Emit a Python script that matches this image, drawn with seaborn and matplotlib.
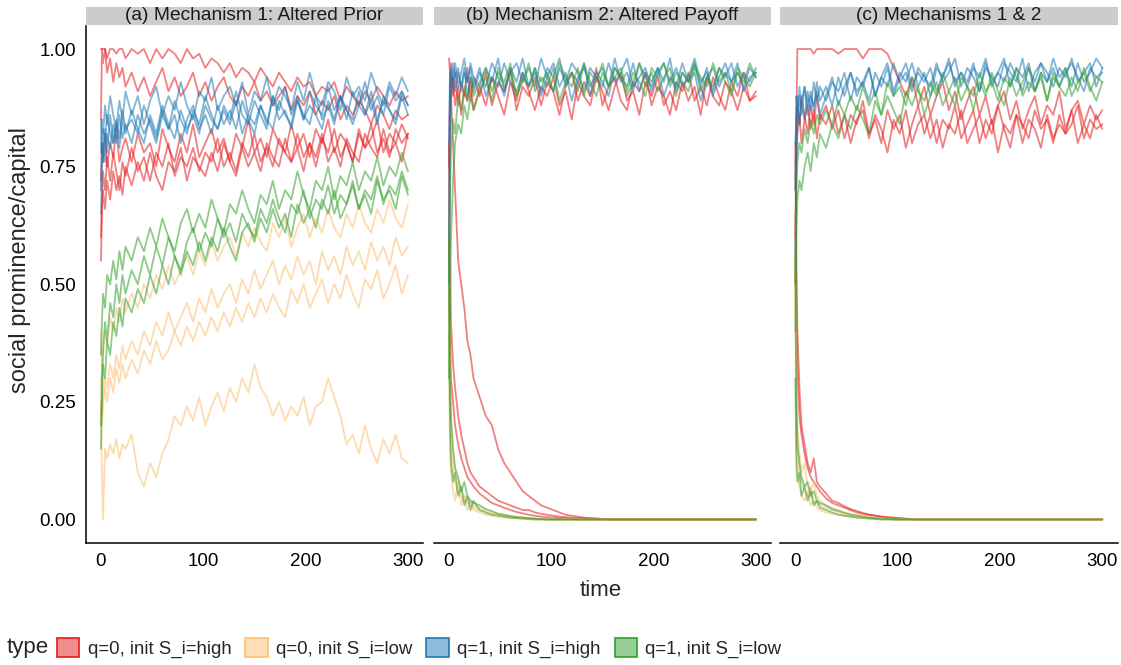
import pandas as pd
import matplotlib
matplotlib.use("Agg")
import matplotlib.pyplot as plt
from matplotlib.patches import Patch
from matplotlib.colors import to_rgba
import seaborn as sns

time = [0, 1, 2, 4, 6, 9, 12, 15, 18, 21, 24,
        30, 36, 42, 48, 54, 60, 66, 72, 78, 84,
        90, 96, 102, 108, 114, 120, 126, 132, 138, 144,
        150, 156, 162, 168, 174, 180, 186, 192, 198, 204,
        210, 216, 222, 228, 234, 240, 246, 252, 258, 264,
        270, 276, 282, 288, 294, 300]

types = ["q=0, init S_i=high", "q=0, init S_i=low", "q=1, init S_i=high", "q=1, init S_i=low"]
colors = ["#E31A1C", "#FDBF6F", "#1F78B4", "#33A02C"]
panels = ["(a) Mechanism 1: Altered Prior", "(b) Mechanism 2: Altered Payoff", "(c) Mechanisms 1 & 2"]

# ---------------- (a) Mechanism 1 ----------------
a_q0_high = [
    [1.0, 1.0, 1.0, 1.0, 0.98, 1.0, 1.0, 0.99, 1.0, 1.0, 0.98,
     1.0, 0.99, 1.0, 0.97, 1.0, 0.98, 1.0, 0.99, 0.97, 1.0,
     0.98, 0.99, 0.96, 0.98, 0.97, 0.95, 0.97, 0.94, 0.96, 0.95,
     0.93, 0.96, 0.94, 0.92, 0.95, 0.93, 0.91, 0.94, 0.92, 0.93,
     0.9, 0.92, 0.91, 0.93, 0.89, 0.92, 0.9, 0.88, 0.91, 0.89,
     0.92, 0.9, 0.88, 0.91, 0.89, 0.9],
    [0.85, 1.0, 0.97, 1.0, 0.95, 0.98, 0.93, 0.97, 0.94, 0.96, 0.92,
     0.95, 0.91, 0.94, 0.9, 0.93, 0.96, 0.91, 0.94, 0.9, 0.92,
     0.95, 0.9, 0.93, 0.89, 0.92, 0.94, 0.9, 0.88, 0.92, 0.9,
     0.93, 0.89, 0.91, 0.88, 0.9, 0.92, 0.87, 0.9, 0.88, 0.91,
     0.86, 0.89, 0.87, 0.9, 0.85, 0.88, 0.86, 0.89, 0.87, 0.84,
     0.88, 0.86, 0.83, 0.87, 0.85, 0.86],
    [0.6, 0.68, 0.74, 0.7, 0.77, 0.72, 0.78, 0.74, 0.7, 0.76, 0.73,
     0.79, 0.74, 0.77, 0.72, 0.78, 0.75, 0.8, 0.73, 0.77, 0.75,
     0.79, 0.74, 0.78, 0.76, 0.81, 0.75, 0.78, 0.74, 0.8, 0.77,
     0.82, 0.76, 0.79, 0.75, 0.81, 0.78, 0.76, 0.82, 0.77, 0.8,
     0.75, 0.81, 0.78, 0.83, 0.77, 0.8, 0.76, 0.82, 0.79, 0.84,
     0.78, 0.81, 0.77, 0.83, 0.8, 0.82],
    [0.72, 0.8, 0.76, 0.82, 0.75, 0.8, 0.77, 0.83, 0.76, 0.79, 0.81,
     0.76, 0.82, 0.78, 0.8, 0.75, 0.83, 0.79, 0.76, 0.82, 0.78,
     0.84, 0.77, 0.8, 0.83, 0.78, 0.81, 0.76, 0.82, 0.79, 0.85,
     0.78, 0.81, 0.77, 0.83, 0.8, 0.78, 0.84, 0.79, 0.82, 0.77,
     0.83, 0.8, 0.85, 0.78, 0.82, 0.8, 0.76, 0.83, 0.79, 0.81,
     0.85, 0.78, 0.82, 0.8, 0.84, 0.81],
    [0.55, 0.65, 0.7, 0.66, 0.72, 0.68, 0.74, 0.7, 0.73, 0.69, 0.75,
     0.71, 0.76, 0.72, 0.78, 0.73, 0.7, 0.76, 0.74, 0.79, 0.72,
     0.77, 0.75, 0.73, 0.78, 0.74, 0.8, 0.76, 0.73, 0.79, 0.75,
     0.78, 0.74, 0.8, 0.77, 0.75, 0.81, 0.76, 0.79, 0.74, 0.8,
     0.77, 0.82, 0.76, 0.79, 0.75, 0.81, 0.78, 0.76, 0.82, 0.79,
     0.77, 0.83, 0.78, 0.8, 0.76, 0.82],
]
a_q0_low = [
    [0.4, 0.3, 0.35, 0.4, 0.37, 0.43, 0.4, 0.45, 0.42, 0.47, 0.44,
     0.48, 0.45, 0.5, 0.47, 0.52, 0.49, 0.54, 0.5, 0.53, 0.56,
     0.52, 0.57, 0.54, 0.59, 0.55, 0.58, 0.6, 0.56, 0.61, 0.58,
     0.62, 0.59, 0.57, 0.63, 0.6, 0.64, 0.58, 0.62, 0.65, 0.6,
     0.64, 0.61, 0.66, 0.62, 0.6, 0.65, 0.62, 0.67, 0.63, 0.61,
     0.66, 0.63, 0.68, 0.64, 0.62, 0.67],
    [0.3, 0.22, 0.26, 0.3, 0.28, 0.33, 0.3, 0.35, 0.32, 0.37, 0.34,
     0.38, 0.35, 0.4, 0.37, 0.42, 0.39, 0.44, 0.4, 0.43, 0.46,
     0.42, 0.47, 0.44, 0.49, 0.45, 0.48, 0.5, 0.46, 0.51, 0.48,
     0.53, 0.49, 0.52, 0.55, 0.5, 0.54, 0.51, 0.56, 0.52, 0.55,
     0.5, 0.57, 0.53, 0.56, 0.52, 0.58, 0.54, 0.57, 0.53, 0.59,
     0.55, 0.58, 0.54, 0.6, 0.56, 0.58],
    [0.25, 0.2, 0.24, 0.28, 0.25, 0.3, 0.27, 0.32, 0.29, 0.33, 0.3,
     0.34, 0.31, 0.36, 0.33, 0.38, 0.34, 0.36, 0.4, 0.37, 0.41,
     0.38, 0.42, 0.39, 0.43, 0.4, 0.44, 0.41, 0.45, 0.42, 0.46,
     0.43, 0.47, 0.44, 0.48, 0.45, 0.43, 0.49, 0.46, 0.5, 0.45,
     0.48, 0.51, 0.46, 0.5, 0.47, 0.52, 0.48, 0.45, 0.51, 0.49,
     0.53, 0.47, 0.5, 0.54, 0.48, 0.52],
    [0.25, 0.1, 0.0, 0.15, 0.13, 0.16, 0.14, 0.17, 0.13, 0.16, 0.15,
     0.18, 0.1, 0.07, 0.12, 0.09, 0.14, 0.17, 0.22, 0.2, 0.24,
     0.21, 0.26, 0.2, 0.24, 0.27, 0.23, 0.28, 0.25, 0.3, 0.27,
     0.33, 0.28, 0.26, 0.22, 0.25, 0.21, 0.24, 0.22, 0.26, 0.2,
     0.24, 0.25, 0.3, 0.26, 0.22, 0.16, 0.18, 0.14, 0.2, 0.15,
     0.12, 0.17, 0.14, 0.18, 0.13, 0.12],
]
a_q1_high = [
    [0.78, 0.85, 0.82, 0.88, 0.84, 0.9, 0.86, 0.83, 0.89, 0.85, 0.91,
     0.86, 0.9, 0.84, 0.89, 0.92, 0.86, 0.9, 0.87, 0.93, 0.88,
     0.85, 0.91, 0.89, 0.94, 0.87, 0.9, 0.92, 0.88, 0.93, 0.86,
     0.91, 0.89, 0.94, 0.88, 0.92, 0.9, 0.87, 0.93, 0.89, 0.95,
     0.9, 0.88, 0.93, 0.91, 0.87, 0.94, 0.9, 0.92, 0.89, 0.95,
     0.91, 0.88, 0.93, 0.9, 0.94, 0.91],
    [0.65, 0.74, 0.8, 0.76, 0.82, 0.79, 0.84, 0.8, 0.86, 0.81, 0.84,
     0.8, 0.86, 0.82, 0.85, 0.81, 0.87, 0.83, 0.86, 0.8, 0.85,
     0.88, 0.83, 0.86, 0.82, 0.88, 0.84, 0.87, 0.83, 0.89, 0.85,
     0.82, 0.88, 0.84, 0.9, 0.85, 0.87, 0.83, 0.89, 0.86, 0.84,
     0.9, 0.85, 0.88, 0.84, 0.9, 0.87, 0.85, 0.91, 0.86, 0.89,
     0.84, 0.9, 0.87, 0.85, 0.91, 0.88],
    [0.85, 0.78, 0.83, 0.8, 0.86, 0.82, 0.8, 0.85, 0.81, 0.87, 0.83,
     0.85, 0.82, 0.88, 0.84, 0.8, 0.86, 0.83, 0.89, 0.85, 0.82,
     0.87, 0.84, 0.9, 0.86, 0.83, 0.88, 0.85, 0.91, 0.86, 0.84,
     0.89, 0.86, 0.83, 0.9, 0.87, 0.92, 0.86, 0.89, 0.85, 0.91,
     0.88, 0.86, 0.92, 0.87, 0.9, 0.85, 0.91, 0.88, 0.93, 0.87,
     0.9, 0.86, 0.92, 0.89, 0.91, 0.88],
    [0.7, 0.8, 0.76, 0.83, 0.78, 0.86, 0.8, 0.84, 0.79, 0.85, 0.82,
     0.87, 0.83, 0.8, 0.86, 0.82, 0.88, 0.84, 0.81, 0.87, 0.83,
     0.86, 0.82, 0.88, 0.85, 0.83, 0.87, 0.84, 0.89, 0.82, 0.86,
     0.84, 0.88, 0.85, 0.83, 0.89, 0.86, 0.84, 0.9, 0.85, 0.88,
     0.86, 0.83, 0.89, 0.85, 0.9, 0.87, 0.84, 0.88, 0.86, 0.91,
     0.85, 0.89, 0.87, 0.84, 0.9, 0.86],
]
a_q1_low = [
    [0.2, 0.3, 0.36, 0.42, 0.38, 0.46, 0.43, 0.5, 0.46, 0.52, 0.48,
     0.53, 0.5, 0.56, 0.52, 0.58, 0.54, 0.6, 0.56, 0.53, 0.59,
     0.62, 0.57, 0.61, 0.58, 0.64, 0.6, 0.63, 0.59, 0.65, 0.62,
     0.6, 0.66, 0.63, 0.68, 0.64, 0.61, 0.67, 0.65, 0.7, 0.64,
     0.68, 0.66, 0.71, 0.65, 0.69, 0.67, 0.72, 0.66, 0.7, 0.68,
     0.73, 0.67, 0.71, 0.69, 0.74, 0.7],
    [0.15, 0.25, 0.33, 0.3, 0.38, 0.35, 0.42, 0.39, 0.45, 0.41, 0.47,
     0.44, 0.49, 0.46, 0.52, 0.48, 0.54, 0.5, 0.56, 0.52, 0.57,
     0.54, 0.59, 0.55, 0.6, 0.57, 0.62, 0.58, 0.55, 0.61, 0.63,
     0.59, 0.64, 0.61, 0.66, 0.62, 0.65, 0.6, 0.67, 0.63, 0.66,
     0.62, 0.68, 0.65, 0.7, 0.64, 0.67, 0.71, 0.66, 0.69, 0.65,
     0.72, 0.68, 0.7, 0.66, 0.73, 0.69],
    [0.35, 0.42, 0.48, 0.45, 0.52, 0.5, 0.55, 0.51, 0.57, 0.53, 0.58,
     0.55, 0.6, 0.57, 0.62, 0.58, 0.64, 0.6, 0.57, 0.63, 0.66,
     0.61, 0.65, 0.62, 0.68, 0.64, 0.61, 0.67, 0.65, 0.7, 0.66,
     0.63, 0.69, 0.67, 0.72, 0.66, 0.7, 0.68, 0.74, 0.69, 0.66,
     0.72, 0.7, 0.75, 0.68, 0.73, 0.71, 0.76, 0.7, 0.74, 0.72,
     0.77, 0.71, 0.75, 0.73, 0.78, 0.74],
]

# ---------------- (b) Mechanism 2 ----------------
b_q0_high = [
    [0.75, 0.92, 0.97, 0.9, 0.95, 0.88, 0.93, 0.9, 0.96, 0.89, 0.94,
     0.9, 0.95, 0.88, 0.93, 0.91, 0.96, 0.87, 0.92, 0.9, 0.94,
     0.88, 0.93, 0.91, 0.86, 0.92, 0.95, 0.89, 0.93, 0.9, 0.96,
     0.88, 0.92, 0.94, 0.89, 0.87, 0.93, 0.91, 0.95, 0.88, 0.92,
     0.9, 0.86, 0.93, 0.91, 0.95, 0.89, 0.92, 0.88, 0.94, 0.9,
     0.87, 0.93, 0.9, 0.95, 0.89, 0.91],
    [0.55, 0.85, 0.9, 0.94, 0.88, 0.92, 0.86, 0.91, 0.89, 0.93, 0.87,
     0.92, 0.88, 0.94, 0.9, 0.86, 0.93, 0.89, 0.95, 0.91, 0.87,
     0.92, 0.9, 0.94, 0.88, 0.91, 0.85, 0.93, 0.9, 0.88, 0.94,
     0.91, 0.87, 0.92, 0.95, 0.89, 0.91, 0.86, 0.93, 0.9, 0.94,
     0.88, 0.91, 0.87, 0.93, 0.89, 0.92, 0.86, 0.94, 0.9, 0.88,
     0.93, 0.91, 0.87, 0.92, 0.89, 0.9],
    [0.8, 0.55, 0.42, 0.33, 0.28, 0.22, 0.18, 0.15, 0.12, 0.1, 0.09,
     0.07, 0.06, 0.05, 0.04, 0.035, 0.03, 0.025, 0.02, 0.02, 0.015,
     0.012, 0.01, 0.008, 0.006, 0.005, 0.004, 0.003, 0.003, 0.002, 0.002,
     0.001, 0.0, 0.0, 0.0, 0.0, 0.0, 0.0, 0.0, 0.0, 0.0,
     0.0, 0.0, 0.0, 0.0, 0.0, 0.0, 0.0, 0.0, 0.0, 0.0,
     0.0, 0.0, 0.0, 0.0, 0.0, 0.0],
    [0.6, 0.4, 0.3, 0.25, 0.2, 0.16, 0.13, 0.11, 0.09, 0.08, 0.07,
     0.055, 0.045, 0.035, 0.03, 0.025, 0.02, 0.016, 0.013, 0.01, 0.008,
     0.006, 0.005, 0.004, 0.003, 0.002, 0.001, 0.0, 0.0, 0.0, 0.0,
     0.0, 0.0, 0.0, 0.0, 0.0, 0.0, 0.0, 0.0, 0.0, 0.0,
     0.0, 0.0, 0.0, 0.0, 0.0, 0.0, 0.0, 0.0, 0.0, 0.0,
     0.0, 0.0, 0.0, 0.0, 0.0, 0.0],
    [0.98, 0.95, 0.9, 0.8, 0.7, 0.55, 0.5, 0.45, 0.38, 0.35, 0.3,
     0.26, 0.22, 0.2, 0.15, 0.12, 0.1, 0.08, 0.06, 0.05, 0.04,
     0.03, 0.025, 0.02, 0.015, 0.01, 0.008, 0.006, 0.004, 0.003, 0.002,
     0.001, 0.0, 0.0, 0.0, 0.0, 0.0, 0.0, 0.0, 0.0, 0.0,
     0.0, 0.0, 0.0, 0.0, 0.0, 0.0, 0.0, 0.0, 0.0, 0.0,
     0.0, 0.0, 0.0, 0.0, 0.0, 0.0],
]
b_q0_low = [
    [0.5, 0.25, 0.15, 0.1, 0.08, 0.06, 0.05, 0.04, 0.035, 0.03, 0.025,
     0.02, 0.015, 0.012, 0.01, 0.008, 0.006, 0.005, 0.004, 0.003, 0.002,
     0.001, 0.0, 0.0, 0.0, 0.0, 0.0, 0.0, 0.0, 0.0, 0.0,
     0.0, 0.0, 0.0, 0.0, 0.0, 0.0, 0.0, 0.0, 0.0, 0.0,
     0.0, 0.0, 0.0, 0.0, 0.0, 0.0, 0.0, 0.0, 0.0, 0.0,
     0.0, 0.0, 0.0, 0.0, 0.0, 0.0],
    [0.65, 0.3, 0.2, 0.14, 0.1, 0.08, 0.06, 0.05, 0.04, 0.035, 0.03,
     0.025, 0.02, 0.015, 0.012, 0.01, 0.008, 0.006, 0.004, 0.003, 0.002,
     0.001, 0.0, 0.0, 0.0, 0.0, 0.0, 0.0, 0.0, 0.0, 0.0,
     0.0, 0.0, 0.0, 0.0, 0.0, 0.0, 0.0, 0.0, 0.0, 0.0,
     0.0, 0.0, 0.0, 0.0, 0.0, 0.0, 0.0, 0.0, 0.0, 0.0,
     0.0, 0.0, 0.0, 0.0, 0.0, 0.0],
    [0.4, 0.15, 0.1, 0.06, 0.04, 0.08, 0.03, 0.05, 0.02, 0.04, 0.02,
     0.015, 0.01, 0.008, 0.006, 0.004, 0.003, 0.002, 0.001, 0.0, 0.0,
     0.0, 0.0, 0.0, 0.0, 0.0, 0.0, 0.0, 0.0, 0.0, 0.0,
     0.0, 0.0, 0.0, 0.0, 0.0, 0.0, 0.0, 0.0, 0.0, 0.0,
     0.0, 0.0, 0.0, 0.0, 0.0, 0.0, 0.0, 0.0, 0.0, 0.0,
     0.0, 0.0, 0.0, 0.0, 0.0, 0.0],
]
b_q1_high = [
    [0.6, 0.9, 0.96, 0.93, 0.97, 0.92, 0.95, 0.98, 0.93, 0.96, 0.91,
     0.95, 0.92, 0.97, 0.94, 0.9, 0.96, 0.93, 0.98, 0.92, 0.95,
     0.91, 0.96, 0.94, 0.98, 0.92, 0.95, 0.93, 0.97, 0.9, 0.94,
     0.96, 0.92, 0.98, 0.93, 0.95, 0.91, 0.97, 0.94, 0.92, 0.96,
     0.93, 0.98, 0.91, 0.95, 0.93, 0.97, 0.92, 0.96, 0.9, 0.94,
     0.97, 0.93, 0.95, 0.92, 0.96, 0.94],
    [0.8, 0.95, 0.92, 0.97, 0.94, 0.96, 0.91, 0.95, 0.93, 0.97, 0.94,
     0.92, 0.96, 0.93, 0.98, 0.91, 0.95, 0.97, 0.93, 0.96, 0.92,
     0.98, 0.94, 0.91, 0.96, 0.93, 0.97, 0.95, 0.91, 0.96, 0.94,
     0.92, 0.97, 0.93, 0.95, 0.98, 0.92, 0.94, 0.96, 0.91, 0.95,
     0.97, 0.93, 0.96, 0.92, 0.94, 0.98, 0.93, 0.95, 0.91, 0.96,
     0.94, 0.97, 0.92, 0.95, 0.93, 0.96],
    [0.5, 0.82, 0.9, 0.94, 0.91, 0.95, 0.92, 0.96, 0.9, 0.94, 0.92,
     0.96, 0.9, 0.94, 0.92, 0.97, 0.93, 0.91, 0.95, 0.92, 0.96,
     0.9, 0.94, 0.97, 0.92, 0.95, 0.89, 0.94, 0.96, 0.92, 0.95,
     0.93, 0.9, 0.96, 0.94, 0.92, 0.97, 0.91, 0.95, 0.93, 0.96,
     0.9, 0.94, 0.92, 0.97, 0.93, 0.95, 0.89, 0.94, 0.96, 0.92,
     0.95, 0.93, 0.97, 0.91, 0.94, 0.95],
]
b_q1_low = [
    [0.3, 0.45, 0.6, 0.72, 0.8, 0.84, 0.82, 0.88, 0.85, 0.9, 0.87,
     0.91, 0.94, 0.89, 0.96, 0.92, 0.95, 0.9, 0.93, 0.97, 0.91,
     0.94, 0.92, 0.96, 0.89, 0.93, 0.95, 0.91, 0.97, 0.93, 0.9,
     0.95, 0.92, 0.96, 0.94, 0.9, 0.93, 0.97, 0.92, 0.95, 0.91,
     0.94, 0.96, 0.9, 0.95, 0.93, 0.97, 0.91, 0.94, 0.92, 0.96,
     0.93, 0.9, 0.95, 0.93, 0.97, 0.94],
    [0.45, 0.7, 0.78, 0.85, 0.82, 0.9, 0.87, 0.92, 0.89, 0.94, 0.9,
     0.93, 0.96, 0.91, 0.95, 0.93, 0.97, 0.9, 0.94, 0.92, 0.96,
     0.93, 0.95, 0.91, 0.97, 0.94, 0.92, 0.96, 0.9, 0.95, 0.93,
     0.97, 0.92, 0.94, 0.96, 0.91, 0.95, 0.93, 0.9, 0.96, 0.94,
     0.97, 0.92, 0.95, 0.93, 0.91, 0.96, 0.94, 0.92, 0.97, 0.93,
     0.95, 0.91, 0.96, 0.94, 0.92, 0.95],
    [0.45, 0.2, 0.12, 0.08, 0.1, 0.05, 0.07, 0.03, 0.05, 0.02, 0.04,
     0.02, 0.015, 0.01, 0.008, 0.006, 0.004, 0.003, 0.002, 0.001, 0.0,
     0.0, 0.0, 0.0, 0.0, 0.0, 0.0, 0.0, 0.0, 0.0, 0.0,
     0.0, 0.0, 0.0, 0.0, 0.0, 0.0, 0.0, 0.0, 0.0, 0.0,
     0.0, 0.0, 0.0, 0.0, 0.0, 0.0, 0.0, 0.0, 0.0, 0.0,
     0.0, 0.0, 0.0, 0.0, 0.0, 0.0],
    [0.6, 0.3, 0.22, 0.15, 0.11, 0.09, 0.06, 0.08, 0.05, 0.04, 0.035,
     0.03, 0.022, 0.018, 0.012, 0.01, 0.007, 0.005, 0.004, 0.003, 0.002,
     0.001, 0.0, 0.0, 0.0, 0.0, 0.0, 0.0, 0.0, 0.0, 0.0,
     0.0, 0.0, 0.0, 0.0, 0.0, 0.0, 0.0, 0.0, 0.0, 0.0,
     0.0, 0.0, 0.0, 0.0, 0.0, 0.0, 0.0, 0.0, 0.0, 0.0,
     0.0, 0.0, 0.0, 0.0, 0.0, 0.0],
]

# ---------------- (c) Mechanisms 1 & 2 ----------------
c_q0_high = [
    [0.7, 0.85, 1.0, 1.0, 1.0, 1.0, 1.0, 1.0, 0.99, 1.0, 1.0,
     1.0, 1.0, 0.99, 1.0, 1.0, 1.0, 0.98, 1.0, 1.0, 1.0,
     0.99, 0.96, 0.93, 0.9, 0.94, 0.88, 0.92, 0.86, 0.9, 0.93,
     0.87, 0.91, 0.85, 0.89, 0.92, 0.86, 0.9, 0.84, 0.88, 0.91,
     0.85, 0.89, 0.83, 0.87, 0.9, 0.84, 0.88, 0.86, 0.91, 0.83,
     0.87, 0.89, 0.84, 0.88, 0.85, 0.87],
    [0.6, 0.8, 0.88, 0.84, 0.9, 0.86, 0.82, 0.88, 0.84, 0.9, 0.85,
     0.88, 0.83, 0.87, 0.81, 0.86, 0.84, 0.89, 0.82, 0.85, 0.8,
     0.87, 0.83, 0.86, 0.79, 0.84, 0.88, 0.82, 0.86, 0.8, 0.85,
     0.83, 0.88, 0.81, 0.84, 0.87, 0.8, 0.85, 0.82, 0.88, 0.83,
     0.79, 0.86, 0.84, 0.81, 0.87, 0.83, 0.85, 0.8, 0.86, 0.82,
     0.84, 0.88, 0.81, 0.85, 0.83, 0.84],
    [0.5, 0.75, 0.82, 0.86, 0.8, 0.85, 0.88, 0.83, 0.87, 0.81, 0.86,
     0.84, 0.88, 0.82, 0.86, 0.8, 0.85, 0.87, 0.81, 0.86, 0.83,
     0.78, 0.85, 0.82, 0.87, 0.8, 0.84, 0.86, 0.81, 0.85, 0.79,
     0.84, 0.82, 0.87, 0.8, 0.83, 0.86, 0.81, 0.85, 0.78, 0.84,
     0.82, 0.86, 0.8, 0.85, 0.83, 0.79, 0.86, 0.81, 0.84, 0.82,
     0.87, 0.8, 0.84, 0.81, 0.86, 0.83],
    [0.65, 0.45, 0.32, 0.22, 0.18, 0.14, 0.11, 0.09, 0.08, 0.07, 0.06,
     0.045, 0.035, 0.03, 0.025, 0.02, 0.015, 0.012, 0.01, 0.008, 0.006,
     0.005, 0.004, 0.003, 0.002, 0.001, 0.0, 0.0, 0.0, 0.0, 0.0,
     0.0, 0.0, 0.0, 0.0, 0.0, 0.0, 0.0, 0.0, 0.0, 0.0,
     0.0, 0.0, 0.0, 0.0, 0.0, 0.0, 0.0, 0.0, 0.0, 0.0,
     0.0, 0.0, 0.0, 0.0, 0.0, 0.0],
    [0.8, 0.55, 0.4, 0.28, 0.2, 0.16, 0.12, 0.1, 0.13, 0.08, 0.07,
     0.055, 0.04, 0.035, 0.028, 0.022, 0.018, 0.014, 0.01, 0.008, 0.006,
     0.004, 0.003, 0.002, 0.001, 0.0, 0.0, 0.0, 0.0, 0.0, 0.0,
     0.0, 0.0, 0.0, 0.0, 0.0, 0.0, 0.0, 0.0, 0.0, 0.0,
     0.0, 0.0, 0.0, 0.0, 0.0, 0.0, 0.0, 0.0, 0.0, 0.0,
     0.0, 0.0, 0.0, 0.0, 0.0, 0.0],
]
c_q0_low = [
    [0.5, 0.25, 0.15, 0.1, 0.08, 0.06, 0.05, 0.07, 0.04, 0.035, 0.03,
     0.025, 0.02, 0.015, 0.012, 0.01, 0.008, 0.006, 0.004, 0.003, 0.002,
     0.001, 0.0, 0.0, 0.0, 0.0, 0.0, 0.0, 0.0, 0.0, 0.0,
     0.0, 0.0, 0.0, 0.0, 0.0, 0.0, 0.0, 0.0, 0.0, 0.0,
     0.0, 0.0, 0.0, 0.0, 0.0, 0.0, 0.0, 0.0, 0.0, 0.0,
     0.0, 0.0, 0.0, 0.0, 0.0, 0.0],
    [0.4, 0.15, 0.1, 0.07, 0.05, 0.04, 0.06, 0.03, 0.04, 0.025, 0.02,
     0.015, 0.012, 0.01, 0.008, 0.006, 0.004, 0.003, 0.002, 0.001, 0.0,
     0.0, 0.0, 0.0, 0.0, 0.0, 0.0, 0.0, 0.0, 0.0, 0.0,
     0.0, 0.0, 0.0, 0.0, 0.0, 0.0, 0.0, 0.0, 0.0, 0.0,
     0.0, 0.0, 0.0, 0.0, 0.0, 0.0, 0.0, 0.0, 0.0, 0.0,
     0.0, 0.0, 0.0, 0.0, 0.0, 0.0],
    [0.65, 0.3, 0.2, 0.14, 0.1, 0.12, 0.07, 0.06, 0.08, 0.05, 0.04,
     0.03, 0.025, 0.02, 0.015, 0.012, 0.01, 0.008, 0.006, 0.004, 0.003,
     0.002, 0.001, 0.0, 0.0, 0.0, 0.0, 0.0, 0.0, 0.0, 0.0,
     0.0, 0.0, 0.0, 0.0, 0.0, 0.0, 0.0, 0.0, 0.0, 0.0,
     0.0, 0.0, 0.0, 0.0, 0.0, 0.0, 0.0, 0.0, 0.0, 0.0,
     0.0, 0.0, 0.0, 0.0, 0.0, 0.0],
]
c_q1_high = [
    [0.55, 0.78, 0.85, 0.9, 0.86, 0.92, 0.88, 0.91, 0.87, 0.93, 0.89,
     0.92, 0.88, 0.94, 0.9, 0.95, 0.91, 0.93, 0.96, 0.9, 0.94,
     0.92, 0.97, 0.93, 0.95, 0.91, 0.96, 0.94, 0.92, 0.97, 0.93,
     0.95, 0.98, 0.92, 0.96, 0.94, 0.91, 0.97, 0.93, 0.95, 0.98,
     0.92, 0.96, 0.94, 0.97, 0.91, 0.95, 0.93, 0.98, 0.94, 0.96,
     0.92, 0.97, 0.93, 0.95, 0.98, 0.96],
    [0.7, 0.9, 0.86, 0.92, 0.88, 0.85, 0.91, 0.87, 0.93, 0.89, 0.92,
     0.89, 0.93, 0.91, 0.95, 0.89, 0.94, 0.92, 0.96, 0.9, 0.94,
     0.97, 0.91, 0.95, 0.93, 0.97, 0.92, 0.95, 0.9, 0.96, 0.94,
     0.98, 0.92, 0.95, 0.93, 0.97, 0.91, 0.96, 0.94, 0.92, 0.97,
     0.95, 0.93, 0.98, 0.91, 0.95, 0.97, 0.93, 0.96, 0.92, 0.95,
     0.97, 0.94, 0.91, 0.96, 0.94, 0.95],
    [0.8, 0.86, 0.9, 0.84, 0.89, 0.92, 0.86, 0.9, 0.88, 0.91, 0.86,
     0.9, 0.94, 0.88, 0.92, 0.95, 0.9, 0.93, 0.89, 0.95, 0.92,
     0.96, 0.9, 0.94, 0.97, 0.92, 0.95, 0.93, 0.96, 0.91, 0.94,
     0.97, 0.93, 0.95, 0.92, 0.96, 0.94, 0.98, 0.92, 0.95, 0.93,
     0.97, 0.94, 0.91, 0.96, 0.93, 0.97, 0.95, 0.92, 0.96, 0.94,
     0.98, 0.93, 0.95, 0.97, 0.92, 0.96],
]
c_q1_low = [
    [0.4, 0.6, 0.68, 0.72, 0.7, 0.75, 0.78, 0.74, 0.8, 0.77, 0.82,
     0.79, 0.84, 0.81, 0.86, 0.83, 0.88, 0.85, 0.82, 0.89, 0.86,
     0.9, 0.87, 0.84, 0.91, 0.88, 0.92, 0.86, 0.9, 0.93, 0.88,
     0.91, 0.94, 0.89, 0.92, 0.87, 0.93, 0.9, 0.95, 0.91, 0.88,
     0.94, 0.9, 0.93, 0.96, 0.91, 0.94, 0.89, 0.95, 0.92, 0.9,
     0.94, 0.91, 0.96, 0.92, 0.89, 0.93],
    [0.5, 0.7, 0.76, 0.8, 0.78, 0.83, 0.8, 0.85, 0.82, 0.86, 0.84,
     0.87, 0.84, 0.89, 0.86, 0.9, 0.87, 0.92, 0.88, 0.91, 0.86,
     0.93, 0.9, 0.92, 0.88, 0.94, 0.91, 0.89, 0.93, 0.9, 0.95,
     0.91, 0.88, 0.94, 0.92, 0.9, 0.95, 0.91, 0.93, 0.89, 0.94,
     0.92, 0.96, 0.9, 0.93, 0.91, 0.95, 0.89, 0.94, 0.92, 0.96,
     0.9, 0.93, 0.95, 0.91, 0.94, 0.93],
    [0.3, 0.12, 0.08, 0.1, 0.05, 0.07, 0.04, 0.06, 0.03, 0.04, 0.025,
     0.02, 0.015, 0.01, 0.008, 0.006, 0.004, 0.003, 0.002, 0.001, 0.0,
     0.0, 0.0, 0.0, 0.0, 0.0, 0.0, 0.0, 0.0, 0.0, 0.0,
     0.0, 0.0, 0.0, 0.0, 0.0, 0.0, 0.0, 0.0, 0.0, 0.0,
     0.0, 0.0, 0.0, 0.0, 0.0, 0.0, 0.0, 0.0, 0.0, 0.0,
     0.0, 0.0, 0.0, 0.0, 0.0, 0.0],
    [0.55, 0.25, 0.16, 0.12, 0.09, 0.07, 0.08, 0.05, 0.06, 0.04, 0.035,
     0.03, 0.022, 0.018, 0.014, 0.01, 0.008, 0.006, 0.004, 0.003, 0.002,
     0.001, 0.0, 0.0, 0.0, 0.0, 0.0, 0.0, 0.0, 0.0, 0.0,
     0.0, 0.0, 0.0, 0.0, 0.0, 0.0, 0.0, 0.0, 0.0, 0.0,
     0.0, 0.0, 0.0, 0.0, 0.0, 0.0, 0.0, 0.0, 0.0, 0.0,
     0.0, 0.0, 0.0, 0.0, 0.0, 0.0],
]

runs = {
    panels[0]: [a_q0_high, a_q0_low, a_q1_high, a_q1_low],
    panels[1]: [b_q0_high, b_q0_low, b_q1_high, b_q1_low],
    panels[2]: [c_q0_high, c_q0_low, c_q1_high, c_q1_low],
}

# long table: one row per (panel, type, run, time)
rows = []
for panel, groups in runs.items():
    for typ, group in zip(types, groups):
        for k, run in enumerate(group):
            assert len(run) == len(time), (panel, typ, k, len(run))
            for t, v in zip(time, run):
                rows.append((panel, typ, f"{typ}-{k}", t, v))
df = pd.DataFrame(rows, columns=["panel", "type", "run", "time", "value"])

sns.set_style("white")
plt.rcParams["font.family"] = ["Liberation Sans", "DejaVu Sans"]

palette = dict(zip(types, colors))
fig = plt.figure(figsize=(11.21, 6.65), dpi=100)
lefts = [85.6 / 1121, 433.6 / 1121, 780 / 1121]
width = 337.7 / 1121
bottom = 1 - 543 / 665
height = (543 - 25.5) / 665

for i, panel in enumerate(panels):
    ax = fig.add_axes([lefts[i], bottom, width, height])
    sns.lineplot(data=df[df["panel"] == panel], x="time", y="value", hue="type",
                 units="run", estimator=None, palette=palette, alpha=0.55,
                 linewidth=1.3, legend=False, ax=ax)
    ax.set_xlim(-15, 315)
    ax.set_ylim(-0.05, 1.05)
    ax.set_xticks([0, 100, 200, 300])
    ax.set_yticks([0, 0.25, 0.5, 0.75, 1.0])
    ax.set_yticklabels(["0.00", "0.25", "0.50", "0.75", "1.00"])
    ax.set_xlabel("")
    ax.set_ylabel("")
    ax.tick_params(axis="both", direction="out", length=4, width=1, color="black",
                   labelsize=13.5, labelcolor="black", pad=3)
    for s in ["top", "right"]:
        ax.spines[s].set_visible(False)
    ax.spines["bottom"].set_color("black")
    ax.spines["bottom"].set_linewidth(1.1)
    if i == 0:
        ax.spines["left"].set_color("black")
        ax.spines["left"].set_linewidth(1.1)
    else:
        ax.spines["left"].set_visible(False)
        ax.tick_params(axis="y", left=False, labelleft=False)
    # grey strip with the panel title
    strip = plt.Rectangle((0, 1.0 + 0.5 / 517.5), 1, 18 / 517.5, transform=ax.transAxes,
                          facecolor="#CCCCCC", edgecolor="none", clip_on=False, zorder=0)
    ax.add_patch(strip)
    ax.text(0.5, 1.0 + 9.5 / 517.5, panel, transform=ax.transAxes, ha="center", va="center",
            fontsize=13.8, color="#1a1a1a")

fig.text(601 / 1121, 1 - 590 / 665, "time", ha="center", va="center", fontsize=16)
fig.text(20 / 1121, 1 - 260 / 665, "social prominence/capital", ha="center", va="center",
         rotation=90, fontsize=17)

handles = [Patch(facecolor=to_rgba(c, 0.5), edgecolor=c, linewidth=1.2) for c in colors]
fig.text(7 / 1121, 1 - 648 / 665, "type", ha="left", va="center", fontsize=16)
fig.legend(handles, types, loc="center left", bbox_to_anchor=(57 / 1121, 1 - 648 / 665),
           ncol=4, frameon=False, fontsize=13.4, handlelength=1.2, handleheight=1.2,
           handletextpad=0.45, columnspacing=0.75, borderaxespad=0, borderpad=0)

fig.savefig("out.png", dpi=100)
